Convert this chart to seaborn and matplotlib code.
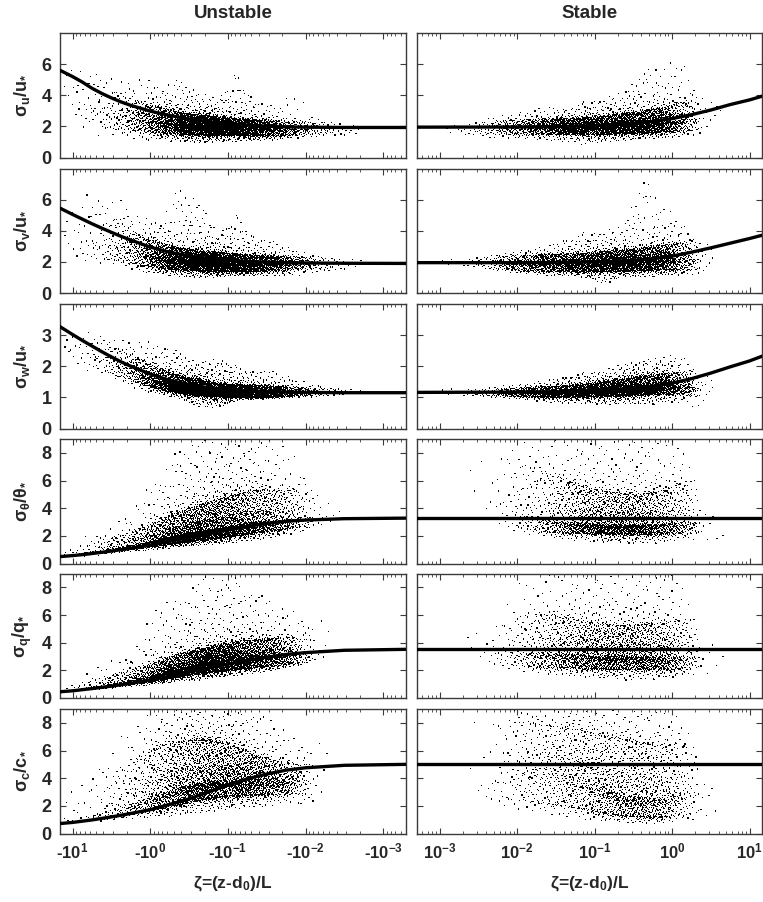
import numpy as np
import matplotlib
matplotlib.use("Agg")
import matplotlib.pyplot as plt
import seaborn as sns
from matplotlib.ticker import FixedLocator, FixedFormatter, NullFormatter

# ---------------------------------------------------------------- data
# fitted curves (x = log10|zeta|)
CURVE_LOGZ_UNST = [1.16, 1.0, 0.875, 0.75, 0.625, 0.5, 0.375, 0.25, 0.0, -0.25, -0.5, -0.75, -1.0,
                   -1.25, -1.5, -1.75, -2.0, -2.5, -3.31]
SU_UNST = [5.6, 5.2, 4.85, 4.45, 4.12, 3.83, 3.57, 3.35, 2.98, 2.7, 2.47, 2.3, 2.18, 2.08, 2.01, 1.97, 1.95, 1.93, 1.93]
SV_UNST = [5.45, 5.05, 4.75, 4.45, 4.17, 3.9, 3.64, 3.4, 2.95, 2.62, 2.38, 2.22, 2.1, 2.03, 1.98, 1.95, 1.93, 1.91, 1.9]
SW_UNST = [3.27, 3.02, 2.83, 2.65, 2.47, 2.3, 2.14, 2.0, 1.75, 1.55, 1.41, 1.31, 1.25, 1.21, 1.19, 1.17, 1.16, 1.15, 1.15]
ST_UNST = [0.5, 0.57, 0.64, 0.72, 0.81, 0.9, 1.0, 1.1, 1.33, 1.6, 1.88, 2.15, 2.42, 2.68, 2.9, 3.05, 3.14, 3.24, 3.28]
SQ_UNST = [0.45, 0.52, 0.6, 0.68, 0.77, 0.86, 0.96, 1.06, 1.3, 1.58, 1.88, 2.17, 2.45, 2.72, 2.95, 3.15, 3.28, 3.45, 3.52]
SC_UNST = [0.72, 0.8, 0.89, 0.98, 1.09, 1.2, 1.32, 1.45, 1.72, 2.1, 2.5, 3.0, 3.5, 3.95, 4.3, 4.58, 4.75, 4.93, 5.0]

CURVE_LOGZ_STAB = [-3.29, -2.0, -1.5, -1.0, -0.75, -0.5, -0.25, 0.0, 0.25, 0.5, 0.75, 1.0, 1.17]
SU_STAB = [1.95, 1.96, 1.98, 2.05, 2.12, 2.2, 2.32, 2.5, 2.75, 3.05, 3.4, 3.7, 3.95]
SV_STAB = [1.95, 1.95, 1.96, 2.0, 2.04, 2.1, 2.2, 2.37, 2.62, 2.9, 3.2, 3.5, 3.72]
SW_STAB = [1.16, 1.17, 1.18, 1.22, 1.25, 1.3, 1.36, 1.46, 1.6, 1.78, 1.98, 2.17, 2.33]
FLAT_LOGZ_STAB = [-3.29, 1.17]
ST_STAB = [3.3, 3.3]
SQ_STAB = [3.54, 3.54]
SC_STAB = [5.0, 5.0]

# scatter clouds, summarised per x-bin: (count, min, 10%, median, 90%, max)
BIN_EDGES_UNST = [1.15, 1.0, 0.75, 0.5, 0.25, 0.0, -0.25, -0.5, -0.75, -1.0,
                  -1.25, -1.5, -1.75, -2.0, -2.25, -2.5, -2.75]
CLOUD_SU_UNST = [(5, 3.2, 3.4, 4.5, 5.8, 6.0), (20, 1.8, 2.5, 3.6, 5.5, 6.2),
                 (40, 1.3, 2.0, 3.0, 4.6, 6.3), (70, 1.2, 1.8, 2.7, 4.0, 5.0),
                 (150, 1.1, 1.7, 2.5, 3.5, 5.4), (300, 1.1, 1.6, 2.3, 3.2, 4.6),
                 (450, 1.0, 1.5, 2.15, 2.9, 5.1), (550, 0.95, 1.45, 2.05, 2.7, 4.2),
                 (560, 1.0, 1.45, 2.0, 2.6, 3.8), (460, 1.0, 1.45, 1.95, 2.5, 5.6),
                 (350, 1.1, 1.4, 1.9, 2.4, 3.6), (220, 1.1, 1.4, 1.85, 2.35, 3.3),
                 (110, 1.2, 1.45, 1.85, 2.3, 4.4), (45, 1.3, 1.5, 1.85, 2.3, 2.6),
                 (18, 1.35, 1.45, 1.8, 2.2, 2.4), (6, 1.4, 1.45, 1.7, 2.0, 2.1)]
CLOUD_SV_UNST = [(5, 2.2, 2.6, 3.6, 5.2, 5.5), (18, 2.0, 2.4, 3.5, 5.5, 7.0),
                 (40, 1.9, 2.2, 3.2, 5.3, 7.0), (90, 1.7, 2.1, 3.0, 4.5, 6.2),
                 (180, 1.3, 1.8, 2.6, 3.6, 5.0), (320, 1.2, 1.6, 2.3, 3.2, 4.6),
                 (450, 1.0, 1.5, 2.1, 2.9, 7.0), (550, 1.0, 1.45, 2.0, 2.7, 6.0),
                 (560, 1.0, 1.4, 1.95, 2.6, 3.8), (480, 1.1, 1.4, 1.9, 2.5, 5.1),
                 (380, 1.1, 1.4, 1.9, 2.4, 3.6), (260, 1.1, 1.45, 1.9, 2.35, 3.3),
                 (130, 1.0, 1.5, 1.9, 2.3, 2.8), (50, 1.3, 1.55, 1.9, 2.25, 2.5),
                 (20, 1.4, 1.5, 1.85, 2.2, 2.3), (6, 1.5, 1.6, 1.85, 2.1, 2.2)]
CLOUD_SW_UNST = [(5, 2.0, 2.3, 2.6, 3.0, 3.3), (15, 1.8, 2.1, 2.5, 2.9, 3.3),
                 (40, 1.8, 1.9, 2.3, 2.8, 3.2), (80, 1.4, 1.65, 2.0, 2.5, 2.9),
                 (170, 1.2, 1.45, 1.75, 2.2, 2.9), (330, 1.1, 1.25, 1.5, 1.9, 2.7),
                 (480, 0.95, 1.15, 1.35, 1.7, 2.5), (570, 0.7, 1.05, 1.25, 1.55, 2.1),
                 (570, 0.65, 1.02, 1.2, 1.45, 2.3), (480, 0.9, 1.0, 1.18, 1.4, 2.0),
                 (380, 0.95, 1.0, 1.17, 1.38, 1.9), (260, 0.95, 1.02, 1.17, 1.35, 1.85),
                 (130, 1.0, 1.05, 1.17, 1.32, 1.6), (50, 1.0, 1.07, 1.17, 1.3, 1.45),
                 (20, 1.02, 1.08, 1.18, 1.28, 1.35), (5, 1.05, 1.1, 1.15, 1.22, 1.25)]
CLOUD_ST_UNST = [(6, 0.45, 0.5, 0.6, 0.9, 1.0), (18, 0.5, 0.6, 0.8, 1.3, 2.4),
                 (45, 0.6, 0.72, 1.0, 1.7, 2.7), (90, 0.75, 0.9, 1.2, 2.0, 3.3),
                 (170, 0.9, 1.1, 1.45, 2.5, 5.0), (320, 1.0, 1.3, 1.75, 3.1, 6.5),
                 (450, 1.2, 1.5, 2.1, 3.7, 8.5), (550, 1.3, 1.7, 2.35, 4.2, 9.0),
                 (560, 1.4, 1.85, 2.55, 4.6, 9.0), (480, 1.5, 2.05, 2.8, 5.0, 9.0),
                 (380, 1.7, 2.25, 3.0, 5.3, 9.0), (260, 1.9, 2.4, 3.1, 5.2, 9.0),
                 (120, 2.1, 2.6, 3.3, 5.3, 8.0), (20, 2.5, 2.8, 3.4, 5.0, 6.0),
                 (3, 2.8, 3.0, 3.3, 3.8, 4.0), (0, 0, 0, 0, 0, 0)]
CLOUD_SQ_UNST = [(5, 0.45, 0.48, 0.55, 0.8, 0.9), (18, 0.5, 0.55, 0.75, 1.1, 1.5),
                 (45, 0.6, 0.7, 0.95, 1.5, 4.3), (90, 0.75, 0.85, 1.15, 1.8, 2.6),
                 (170, 0.85, 1.05, 1.4, 2.2, 4.5), (320, 1.0, 1.3, 1.75, 2.7, 7.5),
                 (460, 1.2, 1.55, 2.1, 3.2, 7.0), (560, 1.3, 1.8, 2.45, 3.5, 8.8),
                 (570, 1.5, 1.95, 2.7, 3.8, 9.0), (500, 1.6, 2.1, 2.9, 4.1, 8.7),
                 (400, 1.8, 2.25, 3.0, 4.2, 8.0), (280, 2.0, 2.35, 3.1, 4.3, 6.6),
                 (120, 2.3, 2.5, 3.2, 4.4, 6.5), (15, 2.6, 2.8, 3.3, 5.0, 6.6),
                 (0, 0, 0, 0, 0, 0), (0, 0, 0, 0, 0, 0)]
CLOUD_SC_UNST = [(5, 0.75, 0.8, 1.0, 3.0, 6.3), (15, 0.8, 0.9, 1.2, 3.5, 5.5),
                 (35, 0.9, 1.0, 1.5, 4.0, 6.0), (80, 1.0, 1.2, 1.9, 4.5, 7.5),
                 (150, 1.1, 1.5, 2.4, 5.5, 8.5), (280, 1.2, 1.8, 2.9, 6.3, 9.0),
                 (400, 1.3, 2.1, 3.3, 6.6, 9.0), (480, 1.5, 2.4, 3.6, 6.8, 9.0),
                 (500, 1.6, 2.6, 3.8, 6.6, 9.0), (450, 1.8, 2.7, 3.9, 6.2, 9.0),
                 (380, 1.9, 2.8, 3.9, 5.6, 9.0), (260, 2.0, 2.8, 3.8, 5.2, 8.0),
                 (120, 2.2, 2.9, 3.8, 5.0, 7.0), (10, 1.0, 2.5, 4.0, 6.0, 7.5),
                 (0, 0, 0, 0, 0, 0), (0, 0, 0, 0, 0, 0)]

BIN_EDGES_STAB = [-3.0, -2.5, -2.25, -2.0, -1.75, -1.5, -1.25, -1.0, -0.75, -0.5,
                  -0.25, 0.0, 0.25, 0.5, 0.75]
CLOUD_SU_STAB = [(8, 1.3, 1.5, 1.8, 2.0, 2.1), (40, 1.2, 1.5, 1.9, 2.3, 2.7),
                 (90, 1.2, 1.5, 1.95, 2.35, 2.8), (150, 1.1, 1.5, 1.95, 2.4, 3.0),
                 (230, 1.1, 1.5, 1.95, 2.45, 3.3), (300, 1.0, 1.5, 1.95, 2.5, 3.2),
                 (380, 0.8, 1.5, 2.0, 2.55, 3.6), (420, 1.0, 1.5, 2.0, 2.65, 3.9),
                 (450, 1.1, 1.55, 2.1, 2.8, 4.2), (450, 1.2, 1.6, 2.15, 2.95, 5.6),
                 (380, 1.2, 1.65, 2.3, 3.2, 6.0), (200, 1.3, 1.7, 2.4, 3.5, 6.5),
                 (20, 1.5, 1.8, 2.6, 3.8, 5.0), (3, 2.5, 2.7, 3.0, 3.4, 3.6)]
CLOUD_SV_STAB = [(10, 1.7, 1.8, 1.95, 2.1, 2.3), (30, 1.5, 1.6, 1.95, 2.3, 2.5),
                 (90, 1.3, 1.5, 1.9, 2.35, 2.6), (160, 1.2, 1.45, 1.9, 2.4, 2.8),
                 (230, 1.1, 1.4, 1.9, 2.45, 3.0), (300, 1.1, 1.4, 1.9, 2.5, 3.6),
                 (380, 1.0, 1.35, 1.9, 2.55, 3.9), (430, 0.5, 1.4, 1.95, 2.65, 4.1),
                 (450, 1.1, 1.4, 2.0, 2.75, 4.3), (450, 1.0, 1.45, 2.05, 2.9, 7.6),
                 (380, 1.1, 1.5, 2.15, 3.05, 5.8), (200, 1.1, 1.5, 2.2, 3.2, 4.6),
                 (20, 1.2, 1.5, 2.2, 3.2, 3.5), (0, 0, 0, 0, 0, 0)]
CLOUD_SW_STAB = [(10, 1.05, 1.08, 1.15, 1.25, 1.3), (35, 1.0, 1.05, 1.15, 1.25, 1.35),
                 (90, 0.95, 1.03, 1.15, 1.28, 1.4), (160, 0.9, 1.02, 1.15, 1.3, 1.45),
                 (230, 0.85, 1.0, 1.15, 1.33, 1.55), (300, 0.8, 1.0, 1.17, 1.37, 1.7),
                 (380, 0.8, 1.02, 1.2, 1.42, 1.8), (430, 0.75, 1.03, 1.22, 1.5, 1.9),
                 (450, 0.8, 1.05, 1.25, 1.58, 2.1), (450, 0.75, 1.08, 1.3, 1.68, 2.2),
                 (380, 0.8, 1.1, 1.35, 1.75, 2.35), (200, 0.8, 1.12, 1.38, 1.8, 2.4),
                 (20, 0.6, 1.0, 1.3, 1.7, 2.0), (0, 0, 0, 0, 0, 0)]
CLOUD_ST_STAB = [(0, 0, 0, 0, 0, 0), (5, 2.5, 3.0, 4.5, 7.0, 8.0),
                 (25, 2.3, 2.8, 4.5, 7.5, 9.0), (70, 2.0, 2.5, 3.6, 7.0, 9.0),
                 (130, 1.9, 2.3, 3.2, 6.5, 9.0), (220, 1.7, 2.2, 3.0, 6.0, 9.0),
                 (300, 1.6, 2.2, 2.9, 5.5, 9.0), (340, 1.5, 2.15, 2.85, 5.2, 9.0),
                 (360, 1.5, 2.1, 2.8, 5.0, 9.0), (340, 1.4, 2.1, 2.8, 5.0, 9.0),
                 (280, 1.5, 2.1, 2.85, 5.2, 9.0), (170, 1.6, 2.2, 3.0, 5.8, 9.0),
                 (12, 1.8, 2.2, 3.0, 5.0, 6.5), (3, 0.8, 1.0, 2.0, 2.5, 2.6)]
CLOUD_SQ_STAB = [(0, 0, 0, 0, 0, 0), (8, 2.2, 2.5, 3.3, 4.5, 5.0),
                 (35, 2.0, 2.4, 3.3, 5.5, 8.0), (90, 1.8, 2.3, 3.3, 6.0, 9.0),
                 (160, 1.7, 2.2, 3.3, 6.0, 9.0), (240, 1.6, 2.2, 3.2, 5.8, 9.0),
                 (300, 1.5, 2.15, 3.1, 5.5, 9.0), (340, 1.4, 2.1, 3.05, 5.3, 9.0),
                 (350, 1.3, 2.1, 3.0, 5.2, 9.0), (330, 1.3, 2.1, 3.0, 5.3, 9.0),
                 (270, 1.4, 2.1, 3.0, 5.4, 9.0), (160, 1.4, 2.1, 3.0, 5.6, 9.0),
                 (12, 1.8, 2.2, 3.0, 4.5, 6.0), (3, 1.0, 1.2, 3.0, 3.5, 3.7)]
CLOUD_SC_STAB = [(0, 0, 0, 0, 0, 0), (8, 2.0, 2.5, 3.5, 7.5, 9.0),
                 (40, 1.8, 2.5, 4.5, 8.0, 9.0), (90, 1.5, 2.4, 4.7, 8.0, 9.0),
                 (130, 1.3, 2.2, 4.6, 7.8, 9.0), (170, 1.2, 2.0, 4.3, 7.6, 9.0),
                 (210, 1.0, 1.8, 4.0, 7.4, 9.0), (250, 0.9, 1.5, 3.3, 7.0, 9.0),
                 (280, 0.8, 1.3, 2.8, 6.8, 9.0), (280, 0.7, 1.2, 2.6, 6.5, 9.0),
                 (230, 0.7, 1.2, 2.6, 6.3, 9.0), (120, 0.9, 1.4, 3.0, 6.5, 9.0),
                 (10, 1.0, 1.5, 3.0, 5.0, 6.5), (2, 1.0, 1.1, 1.5, 2.0, 2.1)]

Y_LABELS = [r"$\sigma_{u}$/u$_{*}$", r"$\sigma_{v}$/u$_{*}$", r"$\sigma_{w}$/u$_{*}$",
            r"$\sigma_{\theta}$/$\theta_{*}$", r"$\sigma_{q}$/q$_{*}$", r"$\sigma_{c}$/c$_{*}$"]
Y_MAX = [8, 8, 4, 9, 9, 9]
Y_TICKS = [[0, 2, 4, 6], [0, 2, 4, 6], [0, 1, 2, 3], [0, 2, 4, 6, 8], [0, 2, 4, 6, 8], [0, 2, 4, 6, 8]]
X_DECADES = [-3, -2, -1, 0, 1]
COL_TITLES = ["Unstable", "Stable"]
X_LABEL = r"$\zeta$=(z-d$_{0}$)/L"

UNST = [(SU_UNST, CLOUD_SU_UNST), (SV_UNST, CLOUD_SV_UNST), (SW_UNST, CLOUD_SW_UNST),
        (ST_UNST, CLOUD_ST_UNST), (SQ_UNST, CLOUD_SQ_UNST), (SC_UNST, CLOUD_SC_UNST)]
STAB = [(CURVE_LOGZ_STAB, SU_STAB, CLOUD_SU_STAB), (CURVE_LOGZ_STAB, SV_STAB, CLOUD_SV_STAB),
        (CURVE_LOGZ_STAB, SW_STAB, CLOUD_SW_STAB), (FLAT_LOGZ_STAB, ST_STAB, CLOUD_ST_STAB),
        (FLAT_LOGZ_STAB, SQ_STAB, CLOUD_SQ_STAB), (FLAT_LOGZ_STAB, SC_STAB, CLOUD_SC_STAB)]

# ---------------------------------------------------------------- style
sns.set_style("ticks")
FONT = ["Liberation Sans", "DejaVu Sans"]
plt.rcParams["font.family"] = FONT
plt.rcParams["font.weight"] = "bold"
plt.rcParams["mathtext.fontset"] = "custom"
for key in ("rm", "it", "bf", "sf"):
    plt.rcParams["mathtext." + key] = "Liberation Sans:bold"
FRAME = "#3a3a3a"


def van_der_corput(k, base):
    out = np.zeros(len(k))
    f = 1.0
    kk = k.copy()
    while np.any(kk > 0):
        f /= base
        out += f * (kk % base)
        kk //= base
    return out


def quantile_map(v, ymin, y10, y50, y90, ymax):
    """Place points in y so that their spread follows the read quantiles."""
    y30 = y50 - 0.41 * (y50 - y10)
    y70 = y50 + 0.41 * (y90 - y50)
    tl = np.clip(v / 0.1, 0, 1)
    th = np.clip((v - 0.9) / 0.1, 0, 1)
    low = y10 - (y10 - ymin) * (1 - tl) ** 2.5
    high = y90 + (ymax - y90) * th ** 2.5
    seg = [y10 + (v - 0.1) / 0.2 * (y30 - y10),
           y30 + (v - 0.3) / 0.2 * (y50 - y30),
           y50 + (v - 0.5) / 0.2 * (y70 - y50),
           y70 + (v - 0.7) / 0.2 * (y90 - y70)]
    return np.select([v < 0.1, v < 0.3, v < 0.5, v < 0.7, v <= 0.9],
                     [low] + seg, default=high)


def cloud_points(edges, rows, sign):
    e = np.asarray(edges, float)
    lo = np.minimum(e[:-1], e[1:])
    hi = np.maximum(e[:-1], e[1:])
    arr = np.asarray(rows, float)
    centers = (lo + hi) / 2
    order = np.argsort(centers)
    centers, lo, hi, arr = centers[order], lo[order], hi[order], arr[order]
    dens = arr[:, 0] / (hi - lo)
    total = int(arr[:, 0].sum())
    grid = np.linspace(lo.min(), hi.max(), 800)
    d = np.interp(grid, centers, dens) + 1e-6 * dens.max()
    cdf = np.concatenate([[0.0], np.cumsum((d[1:] + d[:-1]) / 2 * np.diff(grid))])
    cdf /= cdf[-1]
    k = np.arange(1, total + 1)
    u = van_der_corput(k, 2)
    v = van_der_corput(k, 3)
    lz = np.interp(u, cdf, grid)
    ok = arr[:, 0] > 0
    q = [np.interp(lz, centers[ok], arr[ok, j]) for j in range(1, 6)]
    return sign * 10.0 ** lz, quantile_map(v, *q)


def fwd(x):
    x = np.asarray(x, dtype=float)
    return -np.log10(np.maximum(-x, 1e-300))


def inv(y):
    y = np.asarray(y, dtype=float)
    return -(10.0 ** (-y))


W, H = 763, 902
fig = plt.figure(figsize=(W / 100, H / 100), dpi=100)

COL_X = [(60, 406), (417, 762)]
ROW_TOP = [33, 168.5, 304, 439, 573.5, 709]
ROW_H = 124.5
XLIM_ABS = (5.1e-4, 14.5)

minor_vals = [m * 10.0 ** d for d in range(-4, 2) for m in range(2, 10)]
minor_vals = [m for m in minor_vals if XLIM_ABS[0] < m < XLIM_ABS[1]]

for r in range(6):
    for c in range(2):
        x0, x1 = COL_X[c]
        top = ROW_TOP[r]
        ax = fig.add_axes([x0 / W, 1 - (top + ROW_H) / H, (x1 - x0) / W, ROW_H / H])
        if c == 0:
            curve, rows = UNST[r]
            xs, ys = cloud_points(BIN_EDGES_UNST, rows, -1.0)
            cx = [-(10.0 ** l) for l in CURVE_LOGZ_UNST]
            cy = curve
            ax.set_xscale("function", functions=(fwd, inv))
            ax.set_xlim(-XLIM_ABS[1], -XLIM_ABS[0])
            major = [-(10.0 ** d) for d in X_DECADES[::-1]]
            labels = ["-10$^{%d}$" % d for d in X_DECADES[::-1]]
            minor = [-m for m in minor_vals]
        else:
            logs, curve, rows = STAB[r]
            xs, ys = cloud_points(BIN_EDGES_STAB, rows, 1.0)
            cx = [10.0 ** l for l in logs]
            cy = curve
            ax.set_xscale("log")
            ax.set_xlim(*XLIM_ABS)
            major = [10.0 ** d for d in X_DECADES]
            labels = ["10$^{%d}$" % d for d in X_DECADES]
            minor = minor_vals

        sns.scatterplot(x=xs, y=ys, ax=ax, s=0.8, marker="s", color="black",
                        linewidth=0, edgecolor="none", legend=False, zorder=2)
        sns.lineplot(x=cx, y=cy, ax=ax, color="black", linewidth=2.4,
                     estimator=None, sort=True, legend=False, zorder=3)

        ax.set_ylim(0, Y_MAX[r])
        ax.yaxis.set_major_locator(FixedLocator(Y_TICKS[r]))
        ax.xaxis.set_major_locator(FixedLocator(major))
        ax.xaxis.set_minor_locator(FixedLocator(minor))
        ax.xaxis.set_minor_formatter(NullFormatter())
        if r == 5:
            ax.xaxis.set_major_formatter(FixedFormatter(labels))
        else:
            ax.xaxis.set_major_formatter(NullFormatter())
        if c == 1:
            ax.yaxis.set_major_formatter(NullFormatter())
        ax.set_xlabel("")
        ax.set_ylabel("")
        for sp in ax.spines.values():
            sp.set_visible(True)
            sp.set_color(FRAME)
            sp.set_linewidth(1.0)
        ax.tick_params(which="both", direction="in", top=True, right=True,
                       color=FRAME)
        ax.tick_params(which="major", length=4, width=0.8)
        ax.tick_params(which="minor", length=2.2, width=0.6)
        ax.tick_params(axis="y", labelsize=13, pad=6)
        ax.tick_params(axis="x", labelsize=12, pad=6)
        for t in ax.get_xticklabels() + ax.get_yticklabels():
            t.set_fontweight("bold")

        if c == 0:
            fig.text(22 / W, 1 - (top + ROW_H / 2) / H, Y_LABELS[r], rotation=90,
                     ha="center", va="center", fontsize=13, fontweight="bold")

for c in range(2):
    x0, x1 = COL_X[c]
    xc = (x0 + x1) / 2 / W
    fig.text(xc, 1 - 14 / H, COL_TITLES[c], ha="center", va="center",
             fontsize=13.5, fontweight="bold")
    fig.text(xc, 1 - 884 / H, X_LABEL, ha="center", va="center",
             fontsize=12.5, fontweight="bold")

fig.savefig("out.png", dpi=100)
